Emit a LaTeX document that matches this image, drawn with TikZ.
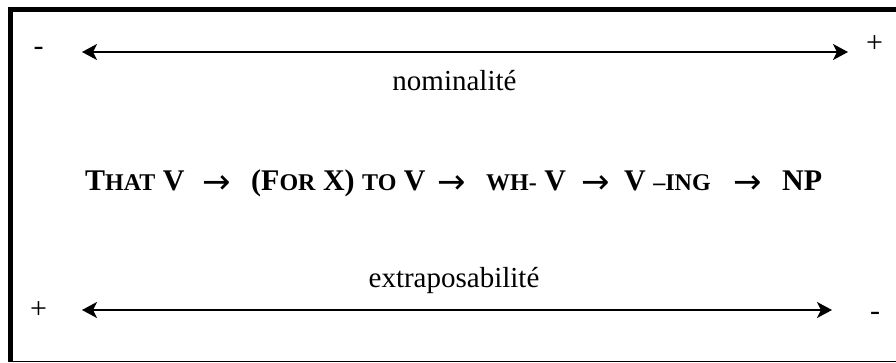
\documentclass[tikz,border=0pt]{standalone}
\usepackage{fontspec}
\setmainfont{Liberation Serif}
\newfontfamily\arrfont{DejaVu Sans}
\usetikzlibrary{arrows.meta}
\newcommand\smc[1]{{\fontsize{24}{24}\selectfont #1}}
\begin{document}
\begin{tikzpicture}[x=1pt,y=-1pt,
  lbl/.style={inner sep=0pt,font=\fontsize{29}{29}\selectfont},
  sgn/.style={inner sep=0pt,anchor=base,font=\fontsize{30}{30}\selectfont},
  itm/.style={inner sep=0pt,anchor=base west,font=\fontsize{30}{30}\selectfont\bfseries},
  arr/.style={inner sep=0pt,anchor=base west,font=\fontsize{34}{34}\selectfont\arrfont},
  dbl/.style={line width=2pt,{Stealth[length=15pt,width=16pt,inset=4pt]}-{Stealth[length=15pt,width=16pt,inset=4pt]}}]
\useasboundingbox (0,0) rectangle (896,362);
% frame
\draw[line width=4.7pt] (8,9.65) -- (896,9.65);
\draw[line width=4.7pt] (10.35,7.3) -- (10.35,362);
\draw[line width=1.4pt] (8,361.2) -- (896,361.2);
% top arrow
\coordinate (t1) at (82,52);
\coordinate (t2) at (848,52);
\draw[dbl] (t1) -- (t2);
\node[sgn] (tm) at (38.5,55.5) {-};
\node[sgn] (tp) at (874.5,52.5) {+};
\node[lbl,anchor=base] (nom) at (454.5,90) {nominalité};
% bottom arrow
\coordinate (b1) at (82,310);
\coordinate (b2) at (832,310);
\draw[dbl] (b1) -- (b2);
\node[sgn] (bp) at (38.5,318.5) {+};
\node[sgn] (bm) at (875,320.5) {-};
\node[lbl,anchor=base] (ext) at (454,287) {extraposabilité};
% main row
\node[itm] (i1) at (85,190) {T\smc{HAT} V};
\node[itm] (i2) at (251,190) {(F\smc{OR} X) \smc{TO} V};
\node[itm] (i3) at (486,190) {\smc{WH-} V};
\node[itm] (i4) at (624,190) {V \smc{–ING}};
\node[itm] (i5) at (782,190) {NP};
\node[arr] (a1) at (202,193) {→};
\node[arr] (a2) at (437,193) {→};
\node[arr] (a3) at (581,193) {→};
\node[arr] (a4) at (733,193) {→};
\end{tikzpicture}
\end{document}
